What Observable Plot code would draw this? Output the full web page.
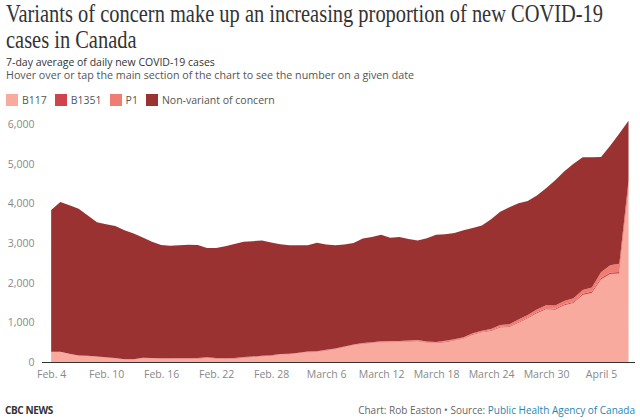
<!DOCTYPE html>
<html>
<head>
<meta charset="utf-8">
<script src="https://cdn.jsdelivr.net/npm/d3@7"></script>
<script src="https://cdn.jsdelivr.net/npm/@observablehq/plot@0.6"></script>
<style>
  html, body { margin: 0; padding: 0; background: #fff; }
  #wrap { position: relative; width: 640px; height: 420px; overflow: hidden; font-family: "Open Sans", sans-serif; }
  .abs { position: absolute; white-space: nowrap; }
  #head { left: 0; top: 0; }
  #sub1 { left: 6px; top: 55px; font-size: 10.5px; color: #333; }
  #legend { left: 6px; top: 93px; display: flex; align-items: center; font-size: 10.5px; color: #555; }
  .item { display: flex; align-items: center; margin-right: 8px; }
  .sw { width: 12px; height: 12px; margin-right: 4px; }
  #chart { left: 0; top: 110px; }
  #foot1 { left: 5px; top: 403px; font-size: 10px; font-weight: 700; color: #333; letter-spacing: -0.4px; }
  #foot2 { right: 5px; top: 403px; font-size: 10px; color: #666; }
  #foot2 span { color: #1f86b3; }
</style>
</head>
<body>
<div id="wrap">
  <svg id="head" class="abs" width="640" height="90">
    <g transform="scale(1,1.15)">
      <text id="t1" x="6" y="19.5" font-family="Liberation Serif, serif" font-size="21" fill="#333">Variants of concern make up an increasing proportion of new COVID-19</text>
      <text id="t2" x="6" y="41.5" font-family="Liberation Serif, serif" font-size="21" fill="#333">cases in Canada</text>
    </g>
    <text id="s2" x="6" y="79" font-family="Open Sans, sans-serif" font-size="10.5" fill="#555">Hover over or tap the main section of the chart to see the number on a given date</text>
  </svg>
  <div id="sub1" class="abs">7-day average of daily new COVID-19 cases</div>
  <div id="legend" class="abs"></div>
  <div id="chart" class="abs"></div>
  <div id="foot1" class="abs">CBC NEWS</div>
  <div id="foot2" class="abs">Chart: Rob Easton • Source: <span>Public Health Agency of Canada</span></div>
</div>
<script>
// ---- data ----
const dates = [
  "2021-02-04","2021-02-05","2021-02-06","2021-02-07","2021-02-08","2021-02-09","2021-02-10","2021-02-11",
  "2021-02-12","2021-02-13","2021-02-14","2021-02-15","2021-02-16","2021-02-17","2021-02-18","2021-02-19",
  "2021-02-20","2021-02-21","2021-02-22","2021-02-23","2021-02-24","2021-02-25","2021-02-26","2021-02-27",
  "2021-02-28","2021-03-01","2021-03-02","2021-03-03","2021-03-04","2021-03-05","2021-03-06","2021-03-07",
  "2021-03-08","2021-03-09","2021-03-10","2021-03-11","2021-03-12","2021-03-13","2021-03-14","2021-03-15",
  "2021-03-16","2021-03-17","2021-03-18","2021-03-19","2021-03-20","2021-03-21","2021-03-22","2021-03-23",
  "2021-03-24","2021-03-25","2021-03-26","2021-03-27","2021-03-28","2021-03-29","2021-03-30","2021-03-31",
  "2021-04-01","2021-04-02","2021-04-03","2021-04-04","2021-04-05","2021-04-06","2021-04-07","2021-04-08"
];
const b117 = [
  250,250,200,155,150,130,110,95, 60,60,100,95,85,85,85,85,
  85,105,90,80,85,110,125,145, 160,190,195,220,245,250,290,320,
  370,420,460,480,495,500,505,515, 525,490,480,500,540,590,690,750,
  780,870,880,990,1100,1230,1330,1320, 1430,1490,1690,1740,2080,2220,2230,4300
];
const b1351 = [
  5,5,5,5,5,5,5,5, 5,5,5,5,5,5,8,8,
  8,8,8,8,8,8,8,8, 8,8,8,8,10,10,10,10,
  10,10,10,10,12,12,12,12, 12,12,12,15,15,15,15,15,
  20,20,20,20,20,25,25,25, 25,25,30,35,35,35,40,40
];
const p1 = [
  3,3,3,3,3,3,3,3, 3,3,3,3,3,3,5,5,
  5,5,5,5,5,5,5,5, 5,5,5,5,10,10,10,10,
  10,10,10,10,15,15,15,15, 15,15,15,20,20,22,22,25,
  30,40,50,60,65,70,75,80, 85,90,95,100,145,185,205,220
];
const nonVariant = [
  3572,3772,3742,3697,3532,3382,3352,3327, 3252,3172,3032,2927,2857,2837,2842,2857,
  2852,2757,2772,2827,2877,2907,2907,2902, 2837,2767,2732,2707,2675,2735,2650,2600,
  2570,2560,2630,2650,2688,2603,2618,2558, 2508,2603,2703,2685,2675,2693,2653,2650,
  2770,2860,2950,2930,2875,2875,2950,3155, 3270,3395,3345,3285,2905,3010,3285,1520
];
const seriesNames = ["B117", "B1351", "P1", "Non-variant of concern"];
const seriesColors = ["#f8aa9f", "#cf444a", "#f07d73", "#9b3232"];
const yTicks = [0, 1000, 2000, 3000, 4000, 5000, 6000];
const xTickDates = ["2021-02-04","2021-02-10","2021-02-16","2021-02-22","2021-02-28","2021-03-06","2021-03-12","2021-03-18","2021-03-24","2021-03-30","2021-04-05"];
const xTickLabels = ["Feb. 4","Feb. 10","Feb. 16","Feb. 22","Feb. 28","March 6","March 12","March 18","March 24","March 30","April 5"];

// ---- build ----
const seriesValues = [b117, b1351, p1, nonVariant];
const long = [];
seriesNames.forEach((s, k) => {
  dates.forEach((d, i) => long.push({date: new Date(d), series: s, value: seriesValues[k][i]}));
});
const labelByTime = new Map(xTickDates.map((d, i) => [new Date(d).getTime(), xTickLabels[i]]));

// legend
const legend = document.getElementById("legend");
seriesNames.forEach((s, i) => {
  const it = document.createElement("div");
  it.className = "item";
  it.innerHTML = `<div class="sw" style="background:${seriesColors[i]}"></div><span>${s}</span>`;
  legend.appendChild(it);
});

const chart = Plot.plot({
  width: 640,
  height: 282,
  marginLeft: 42,
  marginRight: 5,
  marginTop: 10,
  marginBottom: 30,
  style: {fontFamily: "Open Sans, sans-serif", fontSize: "10.5px", color: "#888", background: "transparent"},
  x: {type: "utc", domain: [new Date("2021-02-03T00:00Z"), new Date("2021-04-08T17:00Z")]},
  y: {domain: [0, 6100]},
  color: {domain: seriesNames, range: seriesColors},
  marks: [
    Plot.areaY(long, {x: "date", y: "value", fill: "series", z: "series", order: seriesNames, curve: "linear"}),
    Plot.ruleY([0], {stroke: "#333", strokeWidth: 1}),
    Plot.axisY({ticks: yTicks, tickSize: 0, tickPadding: 8, tickFormat: d3.format(","), label: null, fill: "#888"}),
    Plot.axisX({ticks: xTickDates.map(d => new Date(d)), tickSize: 0, tickPadding: 8, tickFormat: d => labelByTime.get(d.getTime()), label: null, fill: "#888"})
  ]
});
document.getElementById("chart").appendChild(chart);

// fit condensed title width
function fit(id, target) {
  const el = document.getElementById(id);
  const n = el.getComputedTextLength();
  el.setAttribute("textLength", target);
  el.setAttribute("lengthAdjust", "spacingAndGlyphs");
  return target / n;
}
const k = fit("t1", 597);
const t2 = document.getElementById("t2");
fit("t2", t2.getComputedTextLength() * k);
fit("s2", 408);
</script>
</body>
</html>
